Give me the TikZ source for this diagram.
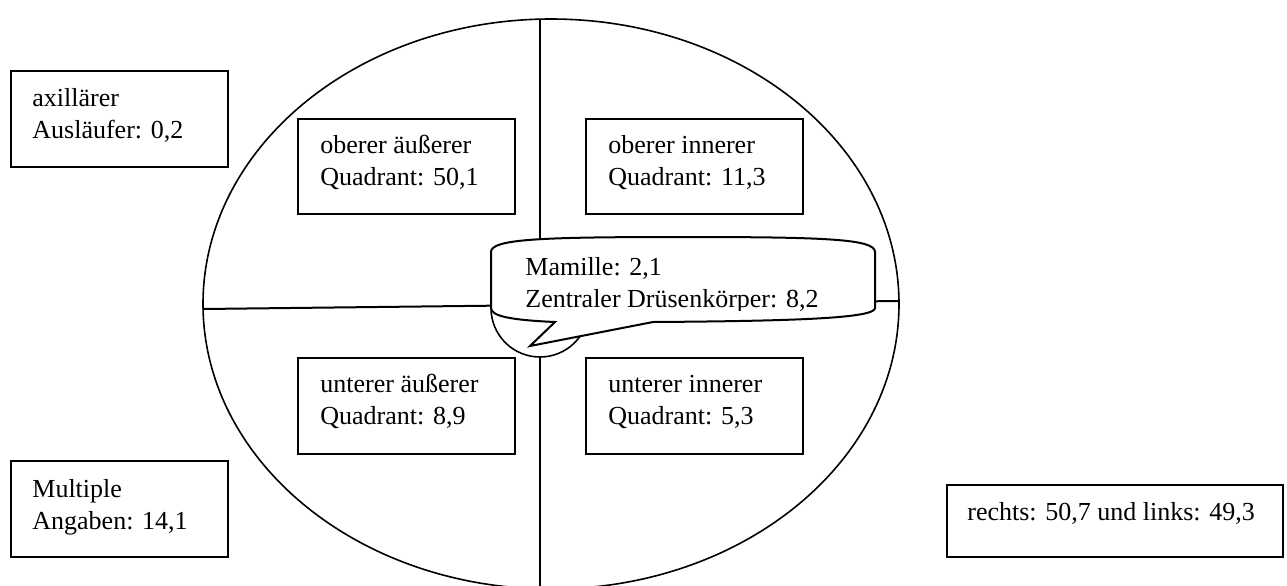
\documentclass[tikz,border=0pt]{standalone}
\usepackage{fontspec}
\setmainfont{Liberation Serif}
\usetikzlibrary{fit}
\begin{document}
\begin{tikzpicture}[x=0.5pt,y=-0.5pt,
  box/.style={draw,line width=1pt,fill=white,inner sep=0pt},
  txt/.style={anchor=base west,inner sep=0pt,font=\fontsize{13pt}{16.1pt}\selectfont},
  outline/.style={line width=0.8pt},
  divider/.style={line width=1pt}]
\useasboundingbox (0,0) rectangle (1287,585);
\clip (0,0) rectangle (1287,585);
% breast outline
\coordinate (c) at (551,304);
\draw[outline] (c) ellipse [x radius=348, y radius=285];
% dividing lines
\coordinate (vtop) at (540,19);
\coordinate (vbot) at (540,600);
\coordinate (hl) at (203,309);
\coordinate (hr) at (899,301);
\draw[divider] (vtop) -- (vbot);
\draw[divider] (hl) -- (hr);
% nipple circle
\coordinate (nip) at (540,308);
\draw[outline,fill=white] (nip) circle [radius=49];
% callout
\draw[line width=1pt,fill=white]
  (491,252) .. controls (491,239) and (540,237) .. (683,237)
  .. controls (826,237) and (875,239) .. (875,252)
  -- (875,308) .. controls (875,318) and (800,321) .. (653,322)
  -- (530,346) -- (555,322)
  .. controls (510,320) and (491,316) .. (491,308) -- cycle;
\begin{scope}
  \clip (491,237) rectangle (875,310);
  \node[txt] (call) at (525,275) {\parbox[t]{200pt}{Mamille: 2,1\\Zentraler Drüsenkörper: 8,2}};
\end{scope}
% boxes
\path (11,71) coordinate (ax1) (228,167) coordinate (ax2)
      (11,461) coordinate (mu1) (228,557) coordinate (mu2)
      (947,485) coordinate (re1) (1283,557) coordinate (re2)
      (298,119) coordinate (oa1) (515,214) coordinate (oa2)
      (586,119) coordinate (oi1) (803,214) coordinate (oi2)
      (298,358) coordinate (ua1) (515,454) coordinate (ua2)
      (586,358) coordinate (ui1) (803,454) coordinate (ui2);
\node[box,fit=(ax1)(ax2)] (ax) {};
\node[box,fit=(mu1)(mu2)] (mu) {};
\node[box,fit=(re1)(re2)] (re) {};
\node[box,fit=(oa1)(oa2)] (oa) {};
\node[box,fit=(oi1)(oi2)] (oi) {};
\node[box,fit=(ua1)(ua2)] (ua) {};
\node[box,fit=(ui1)(ui2)] (ui) {};
% texts
\node[txt] (axt) at (32,106) {\parbox[t]{150pt}{axillärer\\Ausläufer: 0,2}};
\node[txt] (mut) at (32,497) {\parbox[t]{150pt}{Multiple\\Angaben: 14,1}};
\node[txt] (ret) at (967,520) {rechts: 50,7 und links: 49,3};
\node[txt] (oat) at (320,153) {\parbox[t]{150pt}{oberer äußerer\\Quadrant: 50,1}};
\node[txt] (oit) at (608,153) {\parbox[t]{150pt}{oberer innerer\\Quadrant: 11,3}};
\node[txt] (uat) at (320,392) {\parbox[t]{150pt}{unterer äußerer\\Quadrant: 8,9}};
\node[txt] (uit) at (608,392) {\parbox[t]{150pt}{unterer innerer\\Quadrant: 5,3}};
\end{tikzpicture}
\end{document}
